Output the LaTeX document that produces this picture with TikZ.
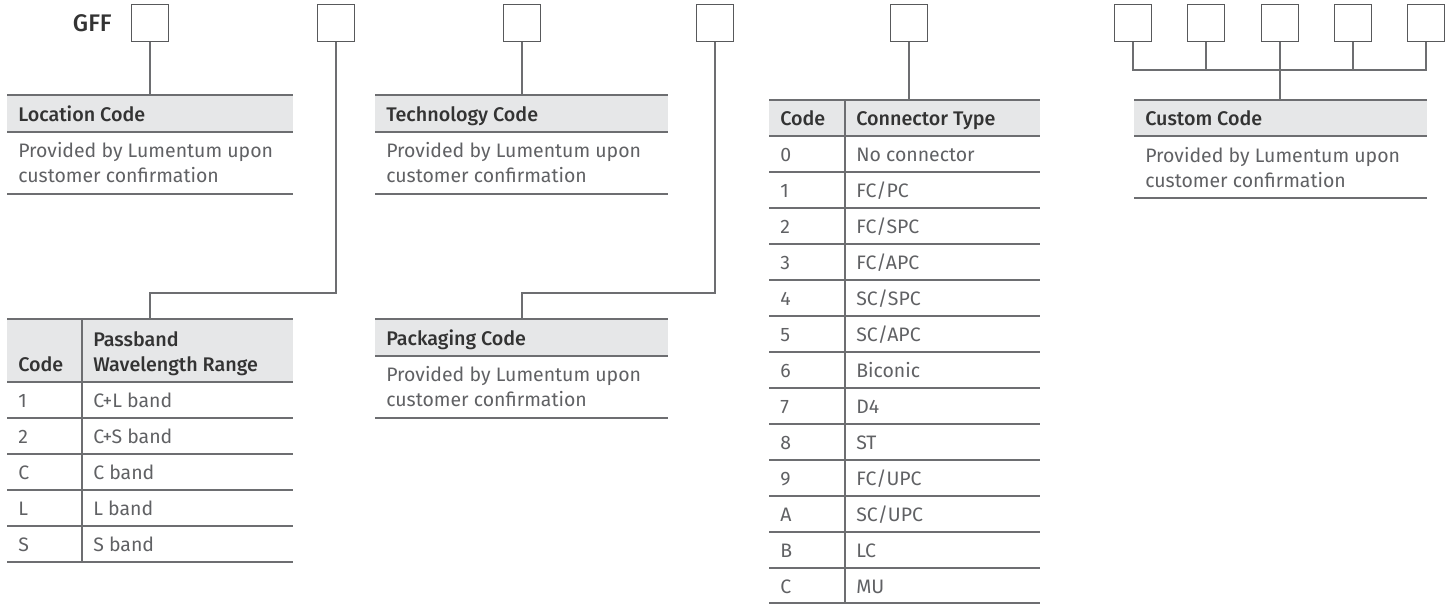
\documentclass[tikz,border=0pt]{standalone}
\usepackage{fontspec}
\setmainfont{Fira Sans}[BoldFont={* Medium}]
\definecolor{hdrfill}{HTML}{E6E7E8}
\definecolor{linec}{HTML}{6D6E71}
\definecolor{boxc}{HTML}{58595B}
\definecolor{hdrtext}{HTML}{333333}
\definecolor{bodytext}{HTML}{606164}
\tikzset{
  codebox/.style={draw=boxc, line width=0.9pt, minimum size=27.75pt, inner sep=0pt},
  conn/.style={draw=linec, line width=0.8pt},
  rule/.style={draw=linec, line width=1pt},
  hdrband/.style={fill=hdrfill, draw=none},
  hdrtxt/.style={anchor=base west, inner sep=0pt, text=hdrtext, font=\bfseries\fontsize{14.8}{17}\selectfont},
  bodytxt/.style={anchor=base west, inner sep=0pt, text=bodytext, font=\fontsize{14.6}{17}\selectfont},
}
\begin{document}
\begin{tikzpicture}[x=0.75pt, y=-0.75pt]
\useasboundingbox (0,0) rectangle (1454,604);

% ---------- code boxes ----------
\node[anchor=base east, inner sep=0pt, text=hdrtext, font=\bfseries\fontsize{18}{20}\selectfont] (gff) at (112,31) {GFF};
\node[codebox] (b1) at (150,23) {};
\node[codebox] (b2) at (336,23) {};
\node[codebox] (b3) at (522,23) {};
\node[codebox] (b4) at (715,23) {};
\node[codebox] (b5) at (909,23) {};
\node[codebox] (c1) at (1133,23) {};
\node[codebox] (c2) at (1206,23) {};
\node[codebox] (c3) at (1280,23) {};
\node[codebox] (c4) at (1353,23) {};
\node[codebox] (c5) at (1426,23) {};

% ---------- Location Code ----------
\fill[hdrband] (7,95) rectangle (293,132);
\coordinate (loctop) at (150,95);
\draw[rule] (7,95) -- (293,95);
\draw[rule] (7,132) -- (293,132);
\node[hdrtxt] (loch) at (18,121) {Location Code};
\node[bodytxt] (locb1) at (18,157) {Provided by Lumentum upon};
\node[bodytxt] (locb2) at (18,182) {customer confirmation};
\draw[rule] (7,194) -- (293,194);

% ---------- Technology Code ----------
\fill[hdrband] (375,95) rectangle (668,132);
\coordinate (techtop) at (522,95);
\draw[rule] (375,95) -- (668,95);
\draw[rule] (375,132) -- (668,132);
\node[hdrtxt] (tech) at (386,121) {Technology Code};
\node[bodytxt] (techb1) at (386,157) {Provided by Lumentum upon};
\node[bodytxt] (techb2) at (386,182) {customer confirmation};
\draw[rule] (375,194) -- (668,194);

% ---------- Packaging Code ----------
\fill[hdrband] (375,319) rectangle (668,356);
\coordinate (packtop) at (522,319);
\draw[rule] (375,319) -- (668,319);
\draw[rule] (375,356) -- (668,356);
\node[hdrtxt] (packh) at (386,345) {Packaging Code};
\node[bodytxt] (packb1) at (386,381) {Provided by Lumentum upon};
\node[bodytxt] (packb2) at (386,406) {customer confirmation};
\draw[rule] (375,418) -- (668,418);

% ---------- Custom Code ----------
\fill[hdrband] (1134,100) rectangle (1427,136);
\coordinate (custtop) at (1280,100);
\draw[rule] (1134,100) -- (1427,100);
\draw[rule] (1134,136) -- (1427,136);
\node[hdrtxt] (custh) at (1145,125) {Custom Code};
\node[bodytxt] (custb1) at (1145,162) {Provided by Lumentum upon};
\node[bodytxt] (custb2) at (1145,187) {customer confirmation};
\draw[rule] (1134,198) -- (1427,198);

% ---------- Passband table ----------
\fill[hdrband] (7,319) rectangle (293,382);
\coordinate (passtop) at (150,319);
\draw[rule] (7,319) -- (293,319);
\draw[rule] (82,319) -- (82,562);
\node[hdrtxt] (passc) at (18,371) {Code};
\node[hdrtxt] (passh1) at (93,346) {Passband};
\node[hdrtxt] (passh2) at (93,371) {Wavelength Range};
\foreach \i/\c/\t in {0/1/{C+L band}, 1/2/{C+S band}, 2/C/{C band}, 3/L/{L band}, 4/S/{S band}}{
  \draw[rule] (7,382+36*\i) -- (293,382+36*\i);
  \node[bodytxt] (pc\i) at (18,407+36*\i) {\c};
  \node[bodytxt] (pt\i) at (93,407+36*\i) {\t};
}
\draw[rule] (7,562) -- (293,562);

% ---------- Connector table ----------
\fill[hdrband] (769,100) rectangle (1040,136);
\coordinate (contop) at (909,100);
\draw[rule] (769,100) -- (1040,100);
\draw[rule] (845,100) -- (845,604);
\node[hdrtxt] (conc) at (780,125) {Code};
\node[hdrtxt] (conh) at (856,125) {Connector Type};
\foreach \i/\c/\t in {0/0/{No connector}, 1/1/{FC/PC}, 2/2/{FC/SPC}, 3/3/{FC/APC}, 4/4/{SC/SPC}, 5/5/{SC/APC}, 6/6/{Biconic}, 7/7/{D4}, 8/8/{ST}, 9/9/{FC/UPC}, 10/A/{SC/UPC}, 11/B/{LC}, 12/C/{MU}}{
  \draw[rule] (769,136+36*\i) -- (1040,136+36*\i);
  \node[bodytxt] (cc\i) at (780,161+36*\i) {\c};
  \node[bodytxt] (ct\i) at (856,161+36*\i) {\t};
}
\draw[rule] (769,603) -- (1040,603);

% ---------- connectors ----------
\draw[conn] (b1.south) -- (loctop);
\draw[conn] (b3.south) -- (techtop);
\draw[conn] (b5.south) -- (contop);
\coordinate (j2) at (150,293);
\coordinate (j4) at (522,293);
\draw[conn] (b2.south) |- (j2) -- (passtop);
\draw[conn] (b4.south) |- (j4) -- (packtop);
\coordinate (bar) at (1280,70);
\draw[conn] (c1.south) |- (bar -| c5.south) -- (c5.south);
\draw[conn] (c2.south) -- (c2.south |- bar);
\draw[conn] (c4.south) -- (c4.south |- bar);
\draw[conn] (c3.south) -- (custtop);
\end{tikzpicture}
\end{document}
